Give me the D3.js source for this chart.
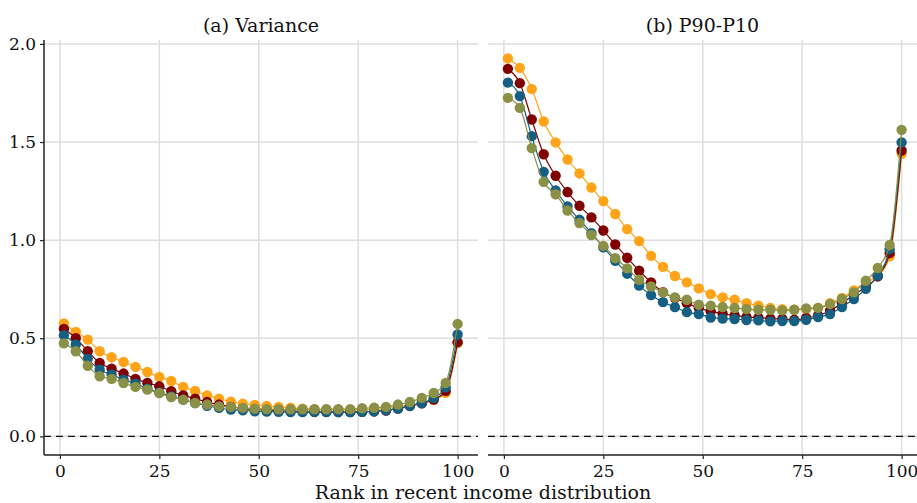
<!DOCTYPE html>
<html>
<head>
<meta charset="utf-8">
<script src="https://cdn.jsdelivr.net/npm/d3@7"></script>
<style>
  body { margin: 0; background: #fff; }
  text { font-family: "DejaVu Serif", "Liberation Serif", serif; fill: #111; }
</style>
</head>
<body>
<svg id="chart" width="917" height="503"></svg>
<script>
// ranks on the x axis
var ranks = [1, 4, 7, 10, 13, 16, 19, 22, 25, 28, 31, 34, 37, 40, 43, 46, 49,
             52, 55, 58, 61, 64, 67, 70, 73, 76, 79, 82, 85, 88, 91, 94, 97, 100];

var xTicks = [0, 25, 50, 75, 100];
var yTicks = [0.0, 0.5, 1.0, 1.5, 2.0];
var panelTitles = ["(a) Variance", "(b) P90-P10"];
var seriesColors = ["#FFA319", "#800000", "#155F83", "#8A9045"];

// (a) variance
var varGold   = [0.575,0.532,0.493,0.434,0.403,0.379,0.354,0.328,0.303,0.282,0.252,0.231,0.209,0.192,0.177,0.167,0.160,
                 0.155,0.150,0.146,0.141,0.138,0.136,0.136,0.134,0.136,0.138,0.141,0.150,0.160,0.170,0.186,0.222,0.476];
var varMaroon = [0.548,0.500,0.434,0.374,0.345,0.320,0.293,0.272,0.255,0.230,0.209,0.192,0.175,0.162,0.150,0.142,0.137,
                 0.133,0.130,0.128,0.127,0.126,0.125,0.124,0.124,0.125,0.127,0.132,0.142,0.155,0.168,0.188,0.232,0.480];
var varBlue   = [0.515,0.468,0.395,0.340,0.315,0.289,0.269,0.243,0.224,0.204,0.187,0.170,0.156,0.145,0.136,0.133,0.128,
                 0.126,0.125,0.124,0.124,0.124,0.124,0.124,0.124,0.125,0.128,0.133,0.141,0.155,0.170,0.195,0.250,0.519];
var varOlive  = [0.474,0.434,0.360,0.306,0.293,0.272,0.252,0.238,0.221,0.200,0.187,0.170,0.162,0.153,0.150,0.145,0.141,
                 0.139,0.138,0.138,0.138,0.138,0.138,0.139,0.139,0.143,0.146,0.150,0.162,0.175,0.196,0.221,0.272,0.573];

// (b) P90-P10
var pGold   = [1.926,1.878,1.770,1.605,1.498,1.411,1.340,1.268,1.199,1.133,1.056,0.995,0.920,0.864,0.817,0.785,0.754,
               0.725,0.708,0.696,0.679,0.666,0.655,0.648,0.645,0.649,0.655,0.679,0.705,0.744,0.785,0.818,0.917,1.440];
var pMaroon = [1.873,1.800,1.615,1.438,1.328,1.245,1.175,1.116,1.049,0.978,0.910,0.844,0.785,0.735,0.705,0.679,0.654,
               0.637,0.625,0.616,0.608,0.605,0.600,0.598,0.594,0.603,0.616,0.640,0.679,0.722,0.761,0.815,0.934,1.457];
var pBlue   = [1.803,1.734,1.530,1.348,1.253,1.172,1.104,1.036,0.963,0.895,0.829,0.768,0.720,0.684,0.659,0.633,0.623,
               0.606,0.600,0.598,0.593,0.591,0.586,0.588,0.588,0.594,0.608,0.623,0.659,0.700,0.752,0.820,0.954,1.498];
var pOlive  = [1.725,1.674,1.469,1.297,1.234,1.151,1.087,1.026,0.971,0.908,0.856,0.798,0.764,0.734,0.708,0.696,0.671,
               0.666,0.659,0.654,0.649,0.645,0.645,0.642,0.645,0.652,0.655,0.674,0.700,0.734,0.793,0.858,0.975,1.562];

var svg = d3.select("#chart");

var plotTop = 40, plotBottom = 455;
var y = d3.scaleLinear().domain([-0.095, 2.02]).range([plotBottom, plotTop]);

var panels = [
  {left: 44,  right: 478, title: panelTitles[0], series: [varGold, varMaroon, varBlue, varOlive], yAxis: true},
  {left: 488, right: 917, title: panelTitles[1], series: [pGold, pMaroon, pBlue, pOlive], yAxis: false}
];

panels.forEach(function(p) {
  var x = d3.scaleLinear().domain([-4, 105]).range([p.left, p.left + 433.5]);
  var g = svg.append("g");

  // grid
  g.selectAll(".hgrid").data(yTicks).enter().append("line")
      .attr("x1", p.left).attr("x2", p.right)
      .attr("y1", function(d) { return y(d); }).attr("y2", function(d) { return y(d); })
      .attr("stroke", "#dedede").attr("stroke-width", 1.5);
  g.selectAll(".vgrid").data(xTicks).enter().append("line")
      .attr("x1", function(d) { return x(d); }).attr("x2", function(d) { return x(d); })
      .attr("y1", plotTop).attr("y2", plotBottom)
      .attr("stroke", "#dedede").attr("stroke-width", 1.5);

  // dashed zero line
  g.append("line")
      .attr("x1", p.left).attr("x2", p.right)
      .attr("y1", y(0)).attr("y2", y(0))
      .attr("stroke", "#111").attr("stroke-width", 1.3)
      .attr("stroke-dasharray", "7,5");

  // series
  var line = d3.line()
      .x(function(d, i) { return x(ranks[i]); })
      .y(function(d) { return y(d); })
      .curve(d3.curveMonotoneX);

  p.series.forEach(function(vals, k) {
    var s = g.append("g");
    s.append("path")
        .datum(vals)
        .attr("d", line)
        .attr("fill", "none")
        .attr("stroke", seriesColors[k])
        .attr("stroke-width", 1.2);
    s.selectAll("circle").data(vals).enter().append("circle")
        .attr("cx", function(d, i) { return x(ranks[i]); })
        .attr("cy", function(d) { return y(d); })
        .attr("r", 5.2)
        .attr("fill", seriesColors[k]);
  });

  // x axis
  var xa = g.append("g")
      .attr("transform", "translate(0," + plotBottom + ")")
      .call(d3.axisBottom(x).tickValues(xTicks).tickSize(4).tickPadding(6).tickFormat(d3.format("d")));
  xa.select(".domain").attr("d", "M" + p.left + ",0H" + p.right).attr("stroke", "#222").attr("stroke-width", 1.5);
  xa.selectAll(".tick line").attr("stroke", "#222").attr("stroke-width", 1.2);
  xa.selectAll("text").attr("font-size", 17).attr("font-family", "DejaVu Serif");

  if (p.yAxis) {
    var ya = g.append("g")
        .attr("transform", "translate(" + p.left + ",0)")
        .call(d3.axisLeft(y).tickValues(yTicks).tickSize(4).tickPadding(4).tickFormat(d3.format(".1f")));
    ya.select(".domain").attr("d", "M0," + plotTop + "V" + plotBottom).attr("stroke", "#222").attr("stroke-width", 1.5);
    ya.selectAll(".tick line").attr("stroke", "#222").attr("stroke-width", 1.2);
    ya.selectAll("text").attr("font-size", 17).attr("font-family", "DejaVu Serif");
  }

  // panel title
  g.append("text")
      .attr("x", (p.left + p.right) / 2)
      .attr("y", 32)
      .attr("text-anchor", "middle")
      .attr("font-size", 19)
      .text(p.title);
});

svg.append("text")
    .attr("x", 483)
    .attr("y", 499)
    .attr("text-anchor", "middle")
    .attr("font-size", 19)
    .text("Rank in recent income distribution");
</script>
</body>
</html>
